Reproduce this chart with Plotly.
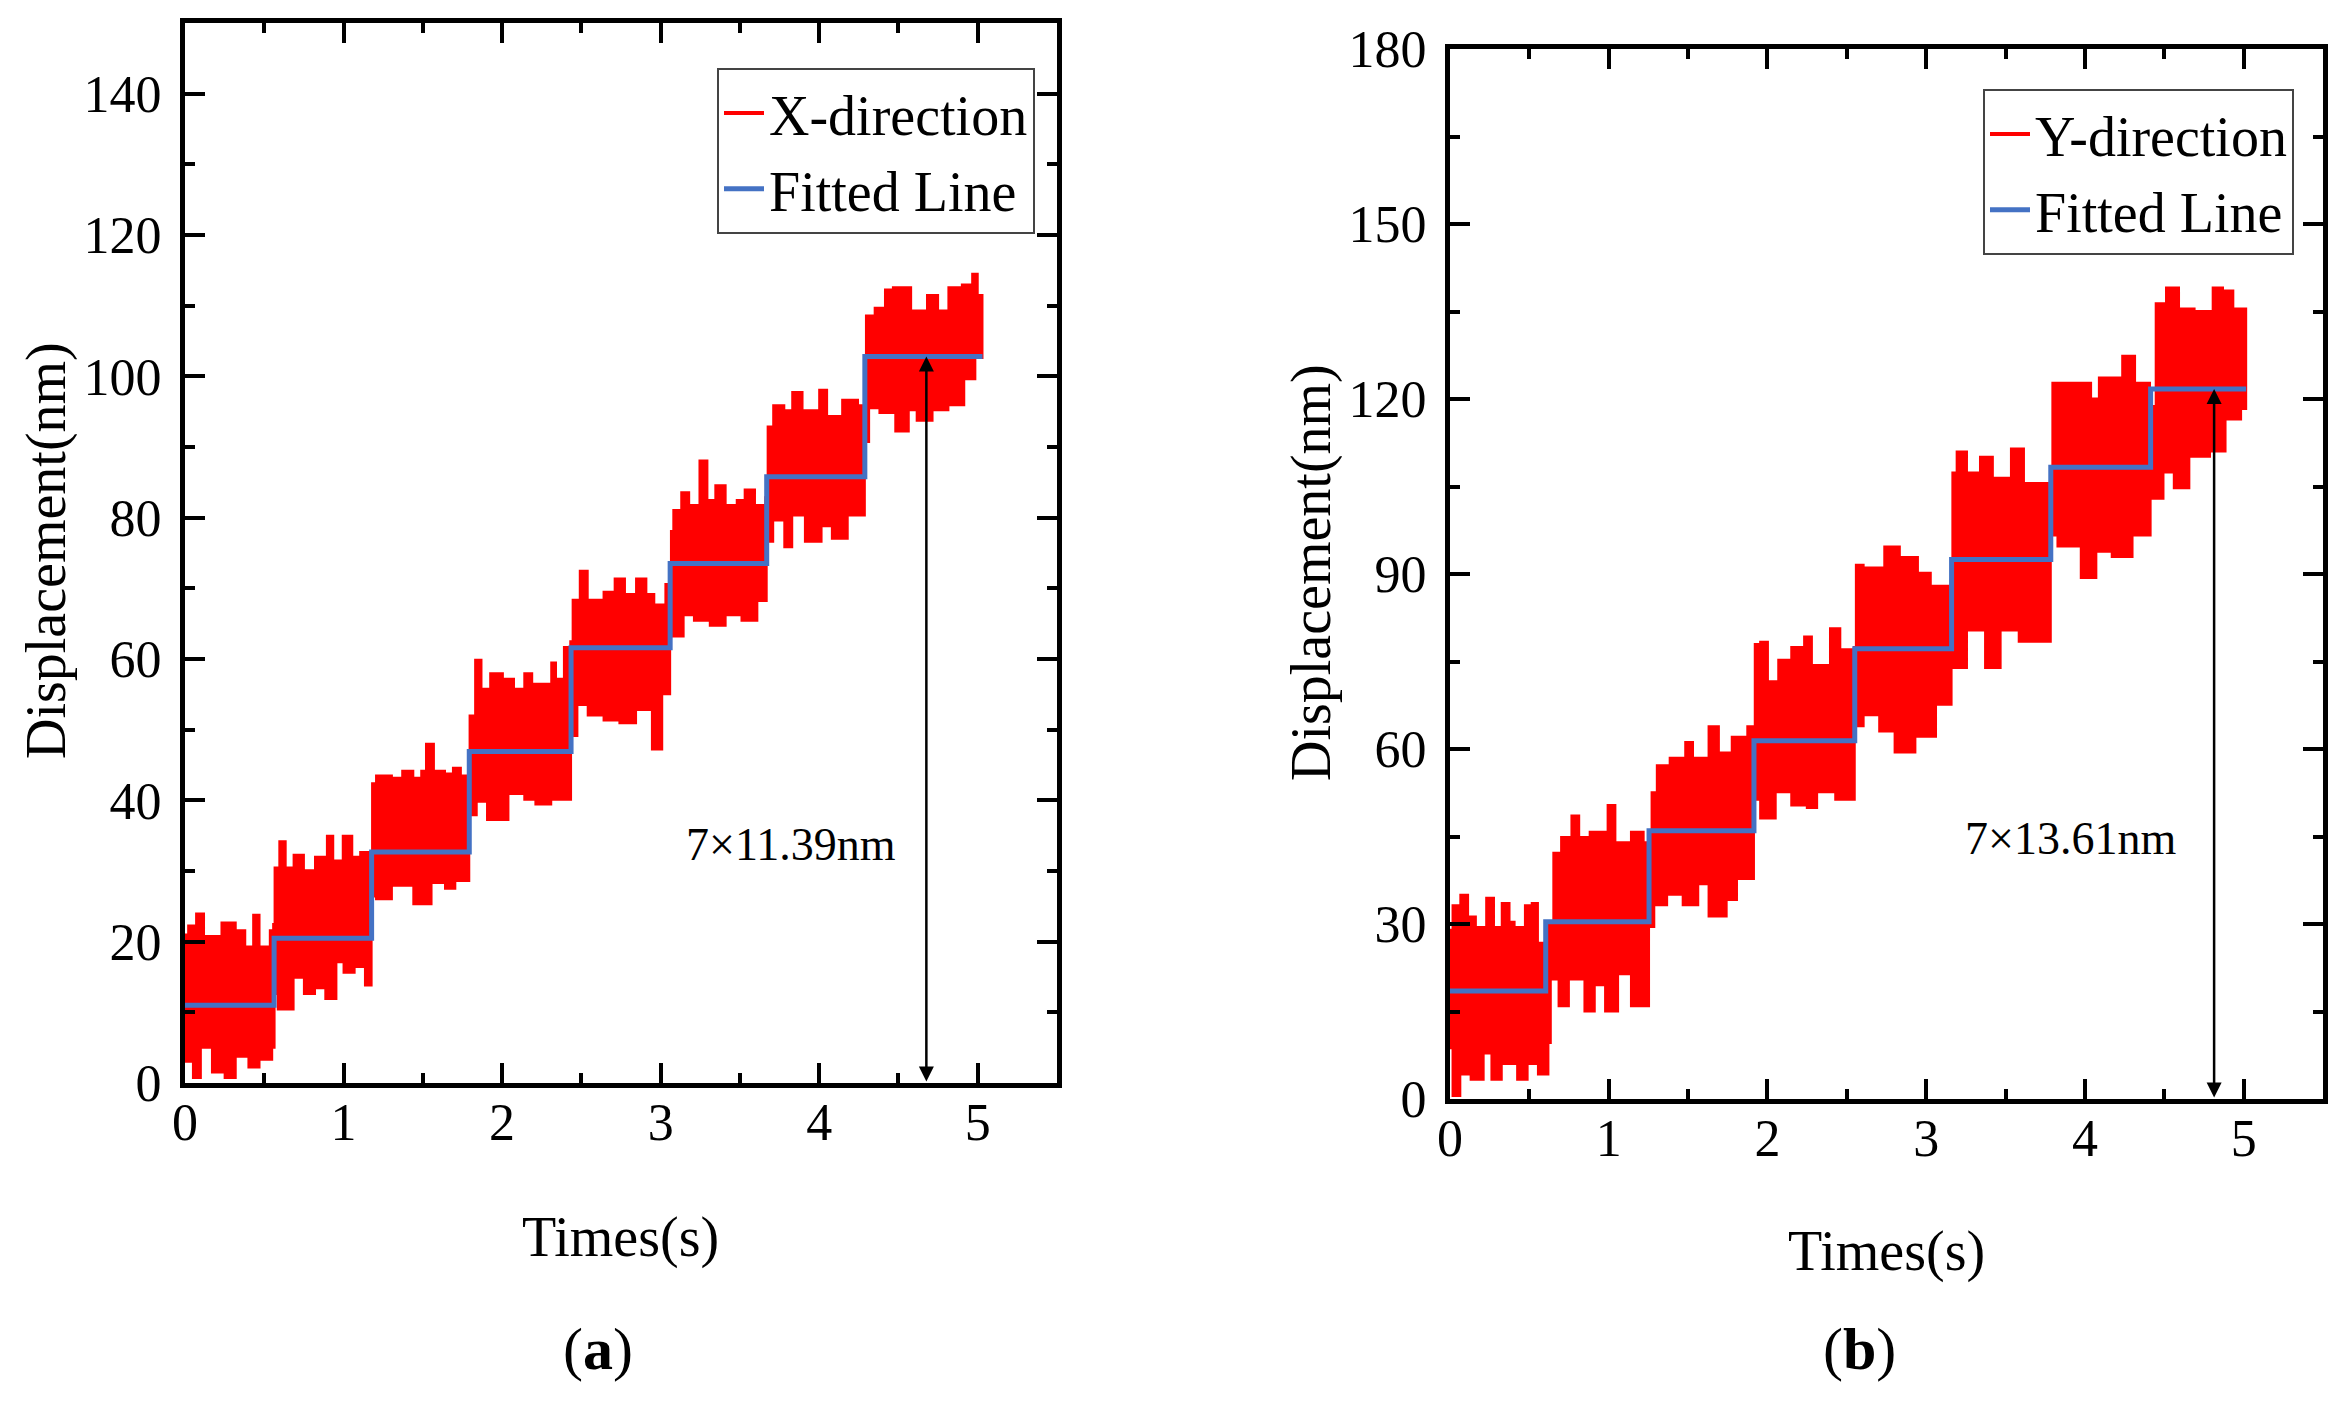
import plotly.graph_objects as go
from plotly.subplots import make_subplots

# ---- panel (a): X-direction, envelope of the raw signal ----
x_top_t = [0.0, 0.02, 0.07, 0.12, 0.23, 0.32, 0.38, 0.43, 0.47, 0.535, 0.556,
           0.565, 0.595, 0.635, 0.685, 0.75, 0.82, 0.895, 0.935, 0.995, 1.055, 1.105, 1.17,
           1.18, 1.205, 1.305, 1.37, 1.44, 1.49, 1.52, 1.57, 1.64, 1.69, 1.74, 1.785,
           1.795, 1.83, 1.87, 1.925, 2.005, 2.075, 2.14, 2.19, 2.31, 2.34, 2.39, 2.43,
           2.445, 2.49, 2.54, 2.64, 2.71, 2.775, 2.845, 2.91, 2.96, 3.03, 3.055,
           3.065, 3.08, 3.13, 3.18, 3.245, 3.295, 3.345, 3.41, 3.48, 3.53, 3.595, 3.66,
           3.675, 3.71, 3.78, 3.83, 3.895, 4.0, 4.05, 4.145, 4.245, 4.283,
           4.295, 4.35, 4.415, 4.465, 4.58, 4.68, 4.75, 4.815, 4.9, 4.965, 5.0, 5.03]
x_top_v = [21.0, 22.3, 24.0, 20.8, 22.7, 21.6, 19.3, 23.8, 19.3, 21.6, 22.5,
           30.5, 34.2, 30.5, 32.3, 30.1, 32.0, 35.0, 31.5, 35.0, 32.0, 32.7, 31.2,
           42.4, 43.5, 43.2, 44.2, 43.2, 44.2, 48.0, 44.2, 43.8, 44.6, 43.5, 44.2,
           52.0, 59.9, 55.8, 58.0, 57.2, 55.8, 58.0, 56.5, 59.5, 57.2, 61.7, 62.5,
           68.4, 72.5, 68.4, 69.5, 71.4, 69.2, 71.4, 69.2, 67.7, 70.6, 68.0,
           78.1, 81.1, 83.6, 81.8, 88.1, 82.5, 84.6, 81.8, 82.5, 84.0, 81.8, 82.9,
           92.9, 95.9, 95.2, 97.8, 95.2, 98.1, 94.4, 96.7, 95.9, 94.5,
           108.6, 109.7, 112.3, 112.6, 109.3, 111.5, 109.3, 112.6, 113.0, 114.5, 111.5, 108.6]
x_bot_t = [0.0, 0.05, 0.10, 0.17, 0.25, 0.32, 0.40, 0.47, 0.55, 0.565,
           0.585, 0.685, 0.75, 0.82, 0.885, 0.955, 1.0, 1.07, 1.135, 1.177,
           1.205, 1.305, 1.44, 1.555, 1.64, 1.705, 1.793,
           1.84, 1.905, 2.04, 2.14, 2.21, 2.31, 2.435,
           2.475, 2.54, 2.64, 2.74, 2.845, 2.945, 3.01, 3.06,
           3.075, 3.145, 3.21, 3.31, 3.41, 3.51, 3.61, 3.669,
           3.71, 3.78, 3.83, 3.91, 4.015, 4.08, 4.18, 4.288,
           4.315, 4.38, 4.48, 4.565, 4.615, 4.715, 4.815, 4.915, 4.985, 5.03]
x_bot_v = [6.0, 3.0, 0.7, 5.0, 1.5, 0.7, 3.7, 2.2, 3.3, 5.0,
           12.6, 10.4, 14.9, 12.6, 13.4, 11.9, 17.1, 15.6, 16.4, 13.8,
           26.4, 26.0, 27.9, 25.3, 28.3, 27.5, 28.6,
           37.9, 39.8, 37.2, 40.9, 40.1, 39.4, 40.1,
           49.1, 53.5, 52.0, 51.3, 50.9, 52.8, 47.2, 55.0,
           67.7, 63.2, 66.2, 65.4, 64.7, 66.2, 65.4, 68.2,
           76.6, 79.6, 75.8, 80.3, 76.6, 78.8, 77.0, 80.3,
           90.7, 95.5, 94.8, 92.2, 95.2, 93.7, 95.2, 95.9, 99.6, 102.6]
x_fit_t = [0.0, 0.562, 1.177, 1.793, 2.435, 3.060, 3.669, 4.288, 5.03]
x_fit_v = [11.0, 20.5, 32.7, 46.9, 61.6, 73.5, 85.8, 102.8, 102.8]

# ---- panel (b): Y-direction ----
y_top_t = [0.0, 0.016, 0.065, 0.114, 0.163, 0.228, 0.277, 0.326, 0.375, 0.407, 0.472, 0.515, 0.554, 0.59,
           0.612, 0.651, 0.70, 0.765, 0.814, 0.88, 0.993, 1.042, 1.14, 1.22, 1.254,
           1.27, 1.303, 1.384, 1.482, 1.531, 1.629, 1.694, 1.775, 1.873, 1.91,
           1.92, 1.954, 2.003, 2.068, 2.15, 2.231, 2.28, 2.394, 2.459, 2.545,
           2.557, 2.606, 2.736, 2.834, 2.948, 3.029, 3.11, 3.155,
           3.165, 3.192, 3.257, 3.339, 3.42, 3.534, 3.616, 3.78,
           3.795, 3.876, 3.958, 4.039, 4.088, 4.235, 4.316, 4.41,
           4.446, 4.511, 4.593, 4.691, 4.805, 4.87, 4.935, 5.016]
y_top_v = [29.0, 33.2, 35.0, 31.3, 29.5, 34.5, 29.5, 33.6, 30.4, 29.5, 33.2, 33.6, 26.8, 24.0,
           30.4, 42.2, 44.9, 48.6, 44.9, 45.8, 50.4, 44.0, 45.8, 44.0, 45.0,
           52.6, 57.2, 58.5, 61.2, 58.5, 63.9, 59.4, 62.1, 63.9, 62.0,
           78.0, 78.4, 71.6, 75.3, 77.5, 79.3, 74.4, 80.7, 77.1, 77.5,
           91.6, 91.1, 94.7, 92.9, 90.2, 88.0, 88.0, 89.0,
           107.4, 111.0, 107.4, 110.1, 106.5, 111.5, 105.6, 103.8,
           122.8, 122.8, 122.8, 120.1, 123.7, 127.4, 122.8, 118.8,
           136.4, 139.1, 135.5, 135.1, 139.1, 138.6, 135.5, 133.7]
y_bot_t = [0.0, 0.016, 0.065, 0.13, 0.212, 0.261, 0.326, 0.423, 0.489, 0.554, 0.62,
           0.635, 0.684, 0.749, 0.847, 0.912, 0.977, 1.059, 1.14, 1.254,
           1.287, 1.368, 1.466, 1.564, 1.629, 1.743, 1.808, 1.915,
           1.954, 2.052, 2.15, 2.248, 2.313, 2.427, 2.55,
           2.606, 2.704, 2.801, 2.932, 3.062, 3.16,
           3.257, 3.371, 3.469, 3.583, 3.785,
           3.827, 3.974, 4.072, 4.169, 4.30, 4.414,
           4.495, 4.56, 4.658, 4.788, 4.886, 4.984, 5.016]
y_bot_v = [9.0, 8.7, 0.5, 4.2, 3.3, 7.8, 3.3, 6.0, 3.3, 6.0, 4.2,
           9.6, 20.5, 15.9, 20.5, 15.0, 19.5, 15.0, 21.4, 15.9,
           29.5, 33.2, 35.0, 33.2, 36.8, 31.3, 34.1, 37.7,
           51.3, 48.1, 52.6, 50.3, 49.9, 52.6, 51.3,
           63.9, 65.8, 63.0, 59.4, 62.1, 67.6,
           73.9, 80.3, 73.9, 80.3, 78.4,
           96.6, 94.7, 89.3, 93.8, 92.9, 96.6,
           102.9, 107.4, 104.7, 110.1, 111.0, 116.5, 118.3]
y_fit_t = [0.0, 0.603, 1.254, 1.915, 2.55, 3.16, 3.785, 4.414, 5.016]
y_fit_v = [18.5, 30.4, 46.0, 61.4, 77.2, 92.5, 108.3, 121.7, 121.7]

# arrow positions and labels
arrow_a = (4.676, 102.8)
arrow_b = (4.814, 121.7)
label_a = (3.82, 33.7, "7×11.39nm")
label_b = (3.91, 44.7, "7×13.61nm")

RED = "#FF0000"
BLUE = "#4472C4"
FONT = "Liberation Serif"
W, H = 2343, 1408
PAD = 8  # page body margin in the browser


def px(x):
    return (x - PAD) / W


def py(y):
    return 1 - (y - PAD) / H


fig = make_subplots(rows=1, cols=2)


def add_panel(col, top_t, top_v, bot_t, bot_v, fit_t, fit_v, name, legend):
    """Red noisy band as a filled envelope, blue step fit on top."""
    fig.add_trace(go.Scatter(x=top_t + bot_t[::-1], y=top_v + bot_v[::-1], mode="lines",
                             fill="toself", fillcolor=RED,
                             line=dict(color=RED, width=2, shape="hv"),
                             showlegend=False, hoverinfo="skip"), row=1, col=col)
    fig.add_trace(go.Scatter(x=[None], y=[None], mode="lines", name=name,
                             line=dict(color=RED, width=4), legend=legend), row=1, col=col)
    fig.add_trace(go.Scatter(x=fit_t, y=fit_v, mode="lines", name="Fitted Line",
                             line=dict(color=BLUE, width=5, shape="hv"), legend=legend),
                  row=1, col=col)


add_panel(1, x_top_t, x_top_v, x_bot_t, x_bot_v, x_fit_t, x_fit_v, "X-direction", "legend")
add_panel(2, y_top_t, y_top_v, y_bot_t, y_bot_v, y_fit_t, y_fit_v, "Y-direction", "legend2")

axis_style = dict(showgrid=False, zeroline=False, showline=True, linecolor="black", linewidth=5,
                  mirror="allticks", ticks="inside", ticklen=20, tickwidth=4, tickcolor="black",
                  tickfont=dict(family=FONT, size=52, color="black"))

fig.update_xaxes(axis_style, range=[0, 5.5], dtick=1, tick0=0,
                 minor=dict(ticks="inside", ticklen=10, tickwidth=4, dtick=0.5, tickcolor="black"),
                 ticklabelstandoff=-10)
fig.update_layout(
    xaxis=dict(domain=[px(185), px(1057)]),
    xaxis2=dict(domain=[px(1450), px(2323)]),
    yaxis=dict(axis_style, domain=[py(1083), py(23)], range=[0, 150], dtick=20, tick0=0,
               minor=dict(ticks="inside", ticklen=10, tickwidth=4, dtick=10, tickcolor="black"),
               ticklabelstandoff=8),
    yaxis2=dict(axis_style, domain=[py(1099), py(49)], range=[0, 180], dtick=30, tick0=0,
                minor=dict(ticks="inside", ticklen=10, tickwidth=4, dtick=15, tickcolor="black"),
                ticklabelstandoff=8),
    width=W, height=H,
    margin=dict(l=0, r=0, t=0, b=0, autoexpand=False),
    plot_bgcolor="white", paper_bgcolor="white",
    font=dict(family=FONT, color="black"),
    legend=dict(x=px(1035), y=py(68), xanchor="right", yanchor="top", bgcolor="white",
                bordercolor="#444", borderwidth=2, font=dict(family=FONT, size=56),
                itemwidth=40, tracegroupgap=0),
    legend2=dict(x=px(2294), y=py(89), xanchor="right", yanchor="top", bgcolor="white",
                 bordercolor="#444", borderwidth=2, font=dict(family=FONT, size=56),
                 itemwidth=40, tracegroupgap=0),
)

# step-height arrows (double headed) and their labels
for (ax_x, top), xr, yr in [(arrow_a, "x", "y"), (arrow_b, "x2", "y2")]:
    fig.add_annotation(x=ax_x, y=top, ax=ax_x, ay=0, xref=xr, yref=yr, axref=xr, ayref=yr,
                       showarrow=True, arrowhead=2, arrowside="end+start", arrowsize=1.2,
                       arrowwidth=2.5, arrowcolor="black", text="")
for (lx, ly, txt), xr, yr in [(label_a, "x", "y"), (label_b, "x2", "y2")]:
    fig.add_annotation(x=lx, y=ly, xref=xr, yref=yr, text=txt, showarrow=False,
                       font=dict(family=FONT, size=46, color="black"))

# axis titles and panel letters (centres in page pixels)
titles = [
    (46, 551, "Displacement(nm)", -90, 56),
    (1311, 573, "Displacement(nm)", -90, 56),
    (620, 1237, "Times(s)", 0, 56),
    (1887, 1251, "Times(s)", 0, 56),
    (598, 1349, "(<b>a</b>)", 0, 60),
    (1859, 1349, "(<b>b</b>)", 0, 60),
]
for tx, ty, txt, ang, sz in titles:
    fig.add_annotation(x=px(tx), y=py(ty), xref="paper", yref="paper", text=txt, textangle=ang,
                       xanchor="center", yanchor="middle", showarrow=False,
                       font=dict(family=FONT, size=sz, color="black"))

fig.write_html("out.html")
